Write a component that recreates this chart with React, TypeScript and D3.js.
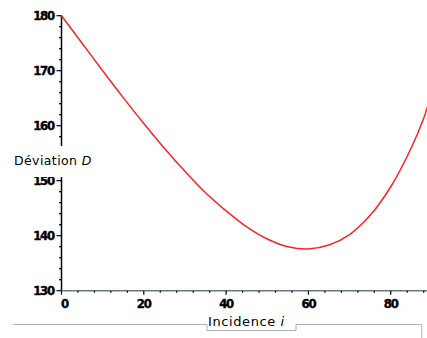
import React from "react";
import * as d3 from "d3";

const incidence = [0, 5, 10, 15, 20, 25, 30, 35, 40, 45, 50, 55, 60, 65, 70, 75, 80, 85, 88, 89, 90];
const deviation = [180, 175.0, 170.0, 165.1, 160.4, 155.9, 151.7, 147.8, 144.5, 141.6, 139.4, 138.0, 137.6, 138.3, 140.2, 143.7, 148.9, 156.0, 161.3, 163.6, 165.5];
const xTicks = [0, 20, 40, 60, 80];
const yTicks = [130, 140, 150, 160, 170, 180];

export default function App() {
  const W = 427, H = 338;
  const x = d3.scaleLinear().domain([0, 90]).range([61.5, 431.9]);
  const y = d3.scaleLinear().domain([130, 180]).range([290.7, 15.7]);
  const pts = incidence.map((v, i) => [v, deviation[i]] as [number, number]);
  const line = d3.line<[number, number]>().x(d => x(d[0])).y(d => y(d[1])).curve(d3.curveCatmullRom.alpha(0.5));
  const yMinor = d3.range(130, 181, 2).filter(v => v % 10 !== 0);
  const xMinor = d3.range(0, 91, 4).filter(v => v % 20 !== 0);
  const x0 = x(0);
  const yAxis = y(130);
  const tickFont = "DejaVu Sans Condensed, DejaVu Sans, Arial";
  return (
    <svg width={W} height={H} style={{ position: "absolute", left: 0, top: 0, background: "#fff" }}>
      <defs>
        <clipPath id="clip"><rect x={0} y={0} width={W} height={H} /></clipPath>
      </defs>
      {/* y axis */}
      <line x1={x0} x2={x0} y1={y(180)} y2={yAxis} stroke="#000" strokeWidth={1.5} />
      {yTicks.map(t => (
        <g key={"yt" + t}>
          <line x1={x0 - 5} x2={x0} y1={y(t)} y2={y(t)} stroke="#000" strokeWidth={1.2} />
          <text x={54} y={y(t) + 4.5} textAnchor="end" fontFamily={tickFont} fontWeight="bold" fontSize={13} letterSpacing={-1.2} fill="#000" stroke="#000" strokeWidth={0.4}>{t}</text>
        </g>
      ))}
      {yMinor.map(t => (
        <line key={"ym" + t} x1={x0 - 2.5} x2={x0} y1={y(t)} y2={y(t)} stroke="#000" strokeWidth={1.2} />
      ))}
      {/* x axis */}
      <line x1={x0} x2={W} y1={yAxis} y2={yAxis} stroke="#7a8a8a" strokeWidth={1.6} />
      <line x1={x0} x2={W} y1={yAxis} y2={yAxis} stroke="#334" strokeWidth={0.8} strokeDasharray="1 2" />
      {xTicks.map(t => (
        <g key={"xt" + t}>
          <line x1={x(t)} x2={x(t)} y1={yAxis} y2={yAxis + 4} stroke="#000" strokeWidth={1.2} />
          <text x={x(t) + (t === 0 ? 3 : 0)} y={yAxis + 17} textAnchor="middle" fontFamily={tickFont} fontWeight="bold" fontSize={13} letterSpacing={-1.2} fill="#000" stroke="#000" strokeWidth={0.4}>{t}</text>
        </g>
      ))}
      {xMinor.map(t => (
        <line key={"xm" + t} x1={x(t)} x2={x(t)} y1={yAxis} y2={yAxis + 2} stroke="#000" strokeWidth={1.2} />
      ))}
      {/* curve */}
      <path d={line(pts) || ""} fill="none" stroke="#ff2222" strokeWidth={1.5} clipPath="url(#clip)" />
      {/* y label */}
      <rect x={10} y={146} width={88} height={31} fill="#fff" />
      <text x={14} y={165} fontFamily="DejaVu Sans, Verdana" fontSize={12.5} letterSpacing={0.4} fill="#000">
        Déviation <tspan fontStyle="italic">D</tspan>
      </text>
      {/* bottom frame */}
      <path d={`M13,324.5 H207 V330.5 H296 V324.5 H421.7 V338`} fill="none" stroke="#b0b0b0" strokeWidth={1} />
      <text x={208} y={326} fontFamily="DejaVu Sans, Verdana" fontSize={13} letterSpacing={0.6} fill="#000">
        Incidence <tspan fontStyle="italic">i</tspan>
      </text>
    </svg>
  );
}
